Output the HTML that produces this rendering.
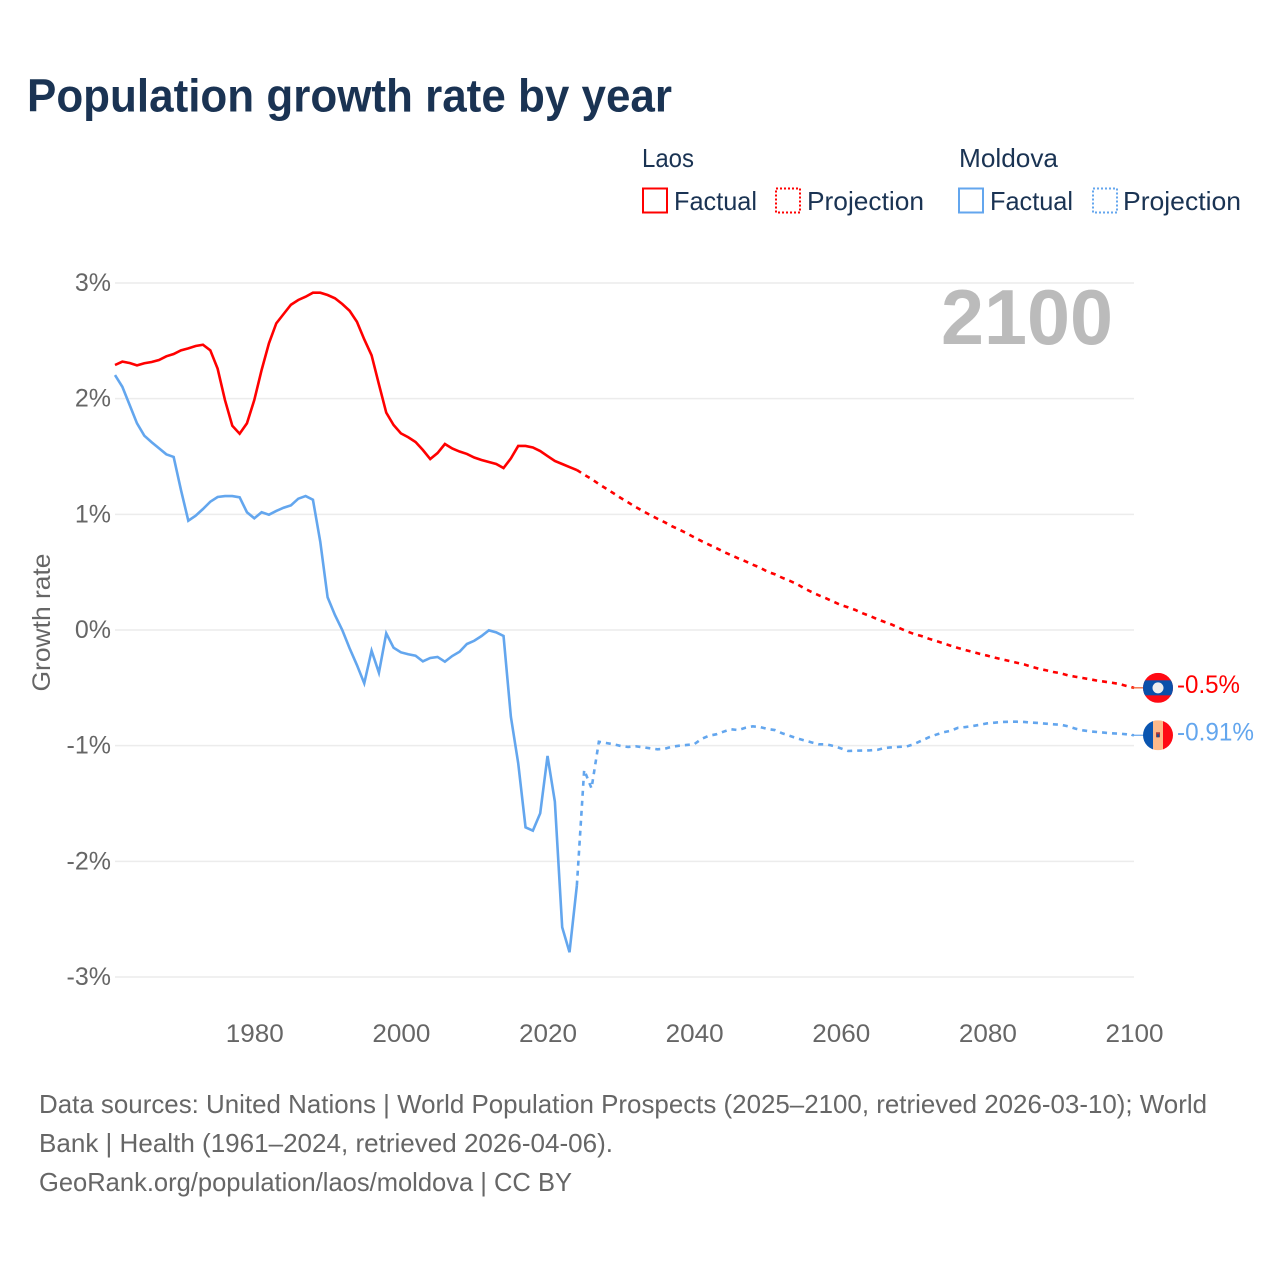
<!DOCTYPE html>
<html lang="en">
<head>
<meta charset="utf-8">
<title>Population growth rate by year</title>
<style>
html,body{margin:0;padding:0;background:#fff;}
svg{display:block;font-family:"Liberation Sans",sans-serif;}
</style>
</head>
<body>
<svg id="chart" xmlns="http://www.w3.org/2000/svg" width="1280" height="1280" viewBox="0 0 1280 1280">
  <rect x="0" y="0" width="1280" height="1280" fill="#ffffff"/>
  <text x="27" y="111.5" font-size="46" font-weight="700" fill="#1a3353" textLength="645" lengthAdjust="spacingAndGlyphs">Population growth rate by year</text>

  <g font-size="26" fill="#1a3353">
    <text x="642" y="167" textLength="52" lengthAdjust="spacingAndGlyphs">Laos</text>
    <text x="959" y="167" textLength="99" lengthAdjust="spacingAndGlyphs">Moldova</text>
    <rect x="643" y="188.5" width="24" height="24" fill="none" stroke="#ff0000" stroke-width="2"/>
    <text x="674" y="210" textLength="83" lengthAdjust="spacingAndGlyphs">Factual</text>
    <rect x="776" y="188.5" width="24" height="24" fill="none" stroke="#ff0000" stroke-width="2" stroke-dasharray="2 2"/>
    <text x="807" y="210" textLength="117" lengthAdjust="spacingAndGlyphs">Projection</text>
    <rect x="959" y="188.5" width="24" height="24" fill="none" stroke="#63a6ee" stroke-width="2"/>
    <text x="990" y="210" textLength="83" lengthAdjust="spacingAndGlyphs">Factual</text>
    <rect x="1093" y="188.5" width="24" height="24" fill="none" stroke="#63a6ee" stroke-width="2" stroke-dasharray="2 2"/>
    <text x="1123" y="210" textLength="118" lengthAdjust="spacingAndGlyphs">Projection</text>
  </g>

  <g id="grid"></g>
  <g id="yTicks"></g>
  <g id="xTicks"></g>
  <text transform="translate(50 622.5) rotate(-90)" text-anchor="middle" font-size="25" fill="#666666" textLength="138" lengthAdjust="spacingAndGlyphs">Growth rate</text>
  <text x="941" y="344" font-size="78" font-weight="700" fill="#bbbbbb" textLength="172" lengthAdjust="spacingAndGlyphs">2100</text>

  <g id="series"></g>

  <defs>
    <clipPath id="flagClip"><circle cx="0" cy="0" r="15"/></clipPath>
  </defs>
  <g id="flagLaos">
    <g clip-path="url(#flagClip)">
      <rect x="-15" y="-15" width="30" height="30" fill="#ff0a14"/>
      <rect x="-15" y="-7.5" width="30" height="15" fill="#0a50aa"/>
      <circle cx="0" cy="0" r="5.5" fill="#eeeeee"/>
    </g>
  </g>
  <g id="flagMoldova">
    <g clip-path="url(#flagClip)">
      <rect x="-15" y="-15" width="10" height="30" fill="#0a55b0"/>
      <rect x="-5" y="-15" width="10" height="30" fill="#fdb98a"/>
      <rect x="5" y="-15" width="10" height="30" fill="#ff0a14"/>
      <rect x="-2" y="-3" width="4" height="5" fill="#b03a3a"/>
      <rect x="-1.2" y="-1" width="2.4" height="3" fill="#20508f"/>
    </g>
  </g>
  <g id="endLabels"></g>

  <g font-size="26" fill="#666666">
    <text x="39" y="1113" textLength="1168" lengthAdjust="spacingAndGlyphs">Data sources: United Nations | World Population Prospects (2025–2100, retrieved 2026-03-10); World</text>
    <text x="39" y="1152" textLength="574" lengthAdjust="spacingAndGlyphs">Bank | Health (1961–2024, retrieved 2026-04-06).</text>
    <text x="39" y="1191" textLength="533" lengthAdjust="spacingAndGlyphs">GeoRank.org/population/laos/moldova | CC BY</text>
  </g>
</svg>
<script>
const factualStartYear = 1961;
const projectionStartYear = 2024;
const yTickValues = [3, 2, 1, 0, -1, -2, -3];
const xTickYears = [1980, 2000, 2020, 2040, 2060, 2080, 2100];
const laosFactual = [2.291,2.32,2.308,2.288,2.306,2.317,2.334,2.366,2.386,2.418,2.435,2.455,2.466,2.418,2.259,1.988,1.766,1.697,1.787,1.988,2.248,2.479,2.651,2.732,2.812,2.853,2.881,2.916,2.916,2.896,2.868,2.818,2.76,2.665,2.513,2.375,2.124,1.879,1.772,1.7,1.666,1.625,1.556,1.478,1.53,1.608,1.569,1.543,1.522,1.491,1.47,1.452,1.435,1.4,1.483,1.591,1.591,1.578,1.547,1.504,1.461,1.435,1.409,1.383];
const laosProjection = [1.383,1.343,1.305,1.262,1.222,1.182,1.141,1.103,1.064,1.029,0.994,0.962,0.931,0.896,0.867,0.836,0.801,0.769,0.739,0.709,0.677,0.648,0.62,0.594,0.565,0.539,0.504,0.482,0.452,0.426,0.398,0.361,0.329,0.3,0.274,0.245,0.216,0.196,0.173,0.144,0.121,0.093,0.069,0.046,0.017,-0.011,-0.035,-0.052,-0.075,-0.095,-0.115,-0.136,-0.156,-0.173,-0.19,-0.207,-0.222,-0.239,-0.253,-0.268,-0.283,-0.297,-0.317,-0.335,-0.348,-0.363,-0.374,-0.392,-0.404,-0.415,-0.426,-0.438,-0.447,-0.456,-0.467,-0.484,-0.5];
const moldovaFactual = [2.204,2.103,1.945,1.787,1.68,1.623,1.571,1.519,1.496,1.21,0.945,0.988,1.046,1.109,1.15,1.158,1.158,1.147,1.018,0.966,1.018,0.997,1.029,1.057,1.078,1.135,1.158,1.126,0.763,0.283,0.13,0,-0.158,-0.303,-0.461,-0.179,-0.369,-0.029,-0.153,-0.193,-0.21,-0.222,-0.271,-0.242,-0.233,-0.274,-0.225,-0.188,-0.121,-0.093,-0.052,-0.003,-0.02,-0.052,-0.75,-1.152,-1.706,-1.735,-1.585,-1.089,-1.484,-2.57,-2.786,-2.21];
const moldovaProjection = [-2.21,-1.21,-1.369,-0.966,-0.977,-0.988,-1.003,-1.011,-1.005,-1.014,-1.023,-1.031,-1.026,-1.009,-1,-0.994,-0.988,-0.942,-0.914,-0.902,-0.879,-0.858,-0.865,-0.845,-0.833,-0.839,-0.856,-0.865,-0.893,-0.914,-0.936,-0.954,-0.971,-0.988,-0.988,-1.003,-1.023,-1.046,-1.043,-1.042,-1.04,-1.036,-1.02,-1.014,-1.01,-1.007,-0.986,-0.957,-0.928,-0.905,-0.884,-0.871,-0.845,-0.839,-0.83,-0.819,-0.807,-0.801,-0.795,-0.793,-0.793,-0.795,-0.801,-0.804,-0.81,-0.815,-0.819,-0.833,-0.853,-0.867,-0.876,-0.882,-0.888,-0.893,-0.896,-0.902,-0.91];
const laosEndLabel = "-0.5%";
const moldovaEndLabel = "-0.91%";

const NS = "http://www.w3.org/2000/svg";
function x(year){ return 115 + (year - 1961) * 7.331; }
function y(v){ return 630 - v * 115.67; }
function make(tag, parent){
  const el = document.createElementNS(NS, tag);
  parent.appendChild(el);
  return el;
}
function linePoints(values, startYear){
  return values.map(function(v, i){ return x(startYear + i).toFixed(2) + "," + y(v).toFixed(2); }).join(" ");
}

const gridGroup = document.getElementById("grid");
const yTickGroup = document.getElementById("yTicks");
const xTickGroup = document.getElementById("xTicks");
const seriesGroup = document.getElementById("series");
const endGroup = document.getElementById("endLabels");

yTickValues.forEach(function(v){
  const line = make("line", gridGroup);
  
  
  line.setAttribute("x1", 115);
  line.setAttribute("x2", 1134);
  line.setAttribute("y1", y(v));
  line.setAttribute("y2", y(v));
  line.setAttribute("stroke", "#ececec");
  line.setAttribute("stroke-width", "1.5");
  const label = make("text", yTickGroup);
  
  
  label.setAttribute("x", 111);
  label.setAttribute("y", y(v) + 8);
  label.setAttribute("text-anchor", "end");
  label.setAttribute("font-size", "25");
  label.setAttribute("fill", "#666666");
  label.textContent = v + "%";
});

xTickYears.forEach(function(year){
  const label = make("text", xTickGroup);
  
  
  label.setAttribute("x", x(year) + 0.5);
  label.setAttribute("y", 1042);
  label.setAttribute("text-anchor", "middle");
  label.setAttribute("font-size", "25");
  label.setAttribute("fill", "#666666");
  label.setAttribute("textLength", "58");
  label.setAttribute("lengthAdjust", "spacingAndGlyphs");
  label.textContent = year;
});

const laosFactualLine = make("polyline", seriesGroup);


laosFactualLine.setAttribute("points", linePoints(laosFactual, factualStartYear));
laosFactualLine.setAttribute("fill", "none");
laosFactualLine.setAttribute("stroke", "#ff0000");
laosFactualLine.setAttribute("stroke-width", "2.6");

const laosProjectionLine = make("polyline", seriesGroup);


laosProjectionLine.setAttribute("points", linePoints(laosProjection, projectionStartYear));
laosProjectionLine.setAttribute("fill", "none");
laosProjectionLine.setAttribute("stroke", "#ff0000");
laosProjectionLine.setAttribute("stroke-width", "2.6");
laosProjectionLine.setAttribute("stroke-dasharray", "5 5");

const moldovaFactualLine = make("polyline", seriesGroup);


moldovaFactualLine.setAttribute("points", linePoints(moldovaFactual, factualStartYear));
moldovaFactualLine.setAttribute("fill", "none");
moldovaFactualLine.setAttribute("stroke", "#63a6ee");
moldovaFactualLine.setAttribute("stroke-width", "2.6");

const moldovaProjectionLine = make("polyline", seriesGroup);


moldovaProjectionLine.setAttribute("points", linePoints(moldovaProjection, projectionStartYear));
moldovaProjectionLine.setAttribute("fill", "none");
moldovaProjectionLine.setAttribute("stroke", "#63a6ee");
moldovaProjectionLine.setAttribute("stroke-width", "2.6");
moldovaProjectionLine.setAttribute("stroke-dasharray", "5 5");

const laosEndY = y(laosProjection[laosProjection.length - 1]);
const moldovaEndY = y(moldovaProjection[moldovaProjection.length - 1]);

const laosConnector = make("line", seriesGroup);


laosConnector.setAttribute("x1", x(2100) - 3);
laosConnector.setAttribute("x2", 1144);
laosConnector.setAttribute("y1", laosEndY);
laosConnector.setAttribute("y2", laosEndY);
laosConnector.setAttribute("stroke", "#f05a28");
laosConnector.setAttribute("stroke-width", "1.2");

const moldovaConnector = make("line", seriesGroup);


moldovaConnector.setAttribute("x1", x(2100) - 3);
moldovaConnector.setAttribute("x2", 1144);
moldovaConnector.setAttribute("y1", moldovaEndY);
moldovaConnector.setAttribute("y2", moldovaEndY);
moldovaConnector.setAttribute("stroke", "#63a6ee");
moldovaConnector.setAttribute("stroke-width", "1.2");

document.getElementById("flagLaos").setAttribute("transform", "translate(1158 " + laosEndY + ")");
document.getElementById("flagMoldova").setAttribute("transform", "translate(1158 " + moldovaEndY + ")");

const laosLabel = make("text", endGroup);


laosLabel.setAttribute("x", 1177);
laosLabel.setAttribute("y", laosEndY + 5);
laosLabel.setAttribute("font-size", "25");
laosLabel.setAttribute("fill", "#ff0000");
laosLabel.setAttribute("textLength", "63");
laosLabel.setAttribute("lengthAdjust", "spacingAndGlyphs");
laosLabel.textContent = laosEndLabel;

const moldovaLabel = make("text", endGroup);


moldovaLabel.setAttribute("x", 1177);
moldovaLabel.setAttribute("y", moldovaEndY + 5);
moldovaLabel.setAttribute("font-size", "25");
moldovaLabel.setAttribute("fill", "#63a6ee");
moldovaLabel.setAttribute("textLength", "77");
moldovaLabel.setAttribute("lengthAdjust", "spacingAndGlyphs");
moldovaLabel.textContent = moldovaEndLabel;
</script>
</body>
</html>
